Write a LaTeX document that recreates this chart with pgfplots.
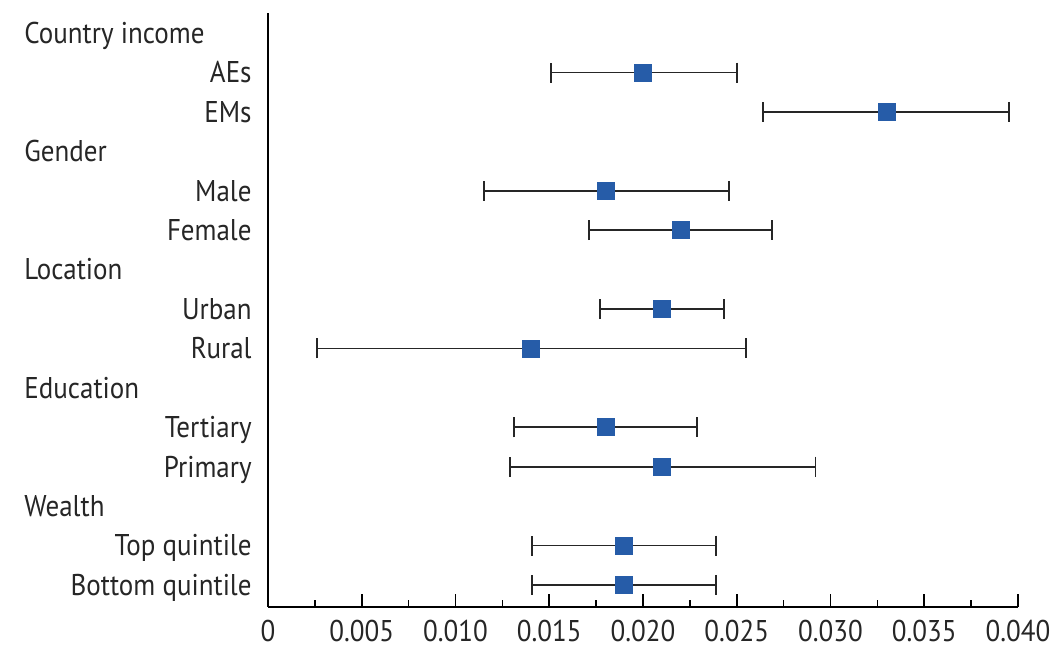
\documentclass[border=0pt]{standalone}
\usepackage{pgfplots}
\usepackage{pgfplotstable}
\pgfplotsset{compat=1.18}
\usepackage{fontspec}
\setmainfont{PT Sans}[FakeStretch=0.9]
\definecolor{mblue}{RGB}{38,92,168}
\pgfplotstableread{
x y ep em
0.020 -1 0.0050 0.0049
0.033 -2 0.0065 0.0066
0.018 -4 0.0066 0.0065
0.022 -5 0.0049 0.0049
0.021 -7 0.0033 0.0033
0.014 -8 0.0115 0.0114
0.018 -10 0.0049 0.0049
0.021 -11 0.0082 0.0081
0.019 -13 0.0049 0.0049
0.019 -14 0.0049 0.0049
}\datatab
\begin{document}
\fontsize{15}{18}\selectfont
\begin{tikzpicture}
\begin{axis}[
 scale only axis, width=375pt, height=297pt,
 xmin=0, xmax=0.04, ymin=-14.56, ymax=0.51,
 axis x line=bottom, axis y line=left,
 axis line style={-, line width=0.8pt, black},
 scaled x ticks=false,
 xtick={0,0.005,0.010,0.015,0.020,0.025,0.030,0.035,0.040},
 xticklabels={0,0.005,0.010,0.015,0.020,0.025,0.030,0.035,0.040},
 minor x tick num=1, tick align=inside, major tick length=6.5pt, minor tick length=3.5pt,
 x tick style={line width=0.8pt, black},
 ytick={-1,-2,-4,-5,-7,-8,-10,-11,-13,-14},
 yticklabels={AEs,EMs,Male,Female,Urban,Rural,Tertiary,Primary,Top quintile,Bottom quintile},
 y tick style={draw=none},
 yticklabel style={anchor=base east, inner sep=0pt, yshift=-5.2pt, xshift=-8pt},
 xticklabel style={anchor=north, inner sep=0pt, yshift=-6.5pt},
 tick label style={font=\fontsize{15}{18}\selectfont, text=black!85},
 clip=false,
]
\addplot[draw=none, mark=none, error bars/.cd, x dir=both, x explicit,
  error mark=|,
  error bar style={line width=0.9pt, black!85},
  error mark options={black!85, line width=0.9pt, mark size=5pt}]
  table[x=x, y=y, x error plus=ep, x error minus=em] {\datatab};
\addplot[only marks, mark=square*, mark size=4.25pt, mark options={fill=mblue, draw=mblue}]
  table[x=x, y=y] {\datatab};
\foreach \t/\yy in {Country income/0, Gender/-3, Location/-6, Education/-9, Wealth/-12}{
  \edef\tmp{\noexpand\node[anchor=base west, inner sep=0pt, text=black!85] at (axis cs:0,\yy) [xshift=-122pt, yshift=-5.2pt] {\t};}\tmp
}
\end{axis}
\path ([xshift=-134pt,yshift=303.5pt]current axis.south west) rectangle ([xshift=394pt,yshift=-20pt]current axis.south west);
\end{tikzpicture}
\end{document}
